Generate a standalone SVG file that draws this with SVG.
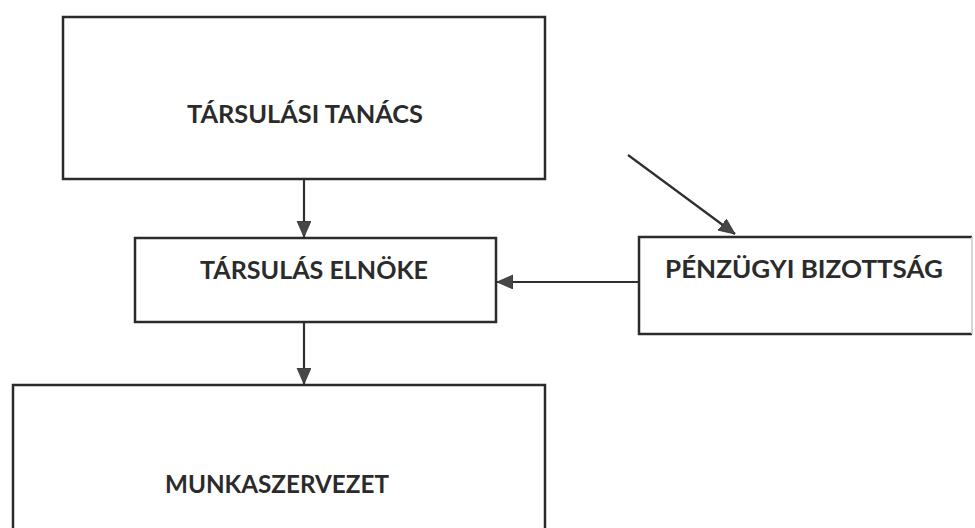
<svg xmlns="http://www.w3.org/2000/svg" width="975" height="528" viewBox="0 0 975 528">
  <defs>
    <style>
      .box { fill: #ffffff; stroke: #2b2b2b; stroke-width: 2.5; }
      .faint { stroke: #c8c8c8; stroke-width: 1.5; fill: none; }
      .lbl { font-family: Lato, "Liberation Sans", Arial, sans-serif; font-weight: bold; font-size: 25px; fill: #2b2b2b; text-anchor: middle; }
      .conn { stroke: #2f2f2f; stroke-width: 2.2; fill: none; marker-end: url(#arrow); }
    </style>
    <marker id="arrow" markerUnits="userSpaceOnUse" markerWidth="17" markerHeight="15" refX="16" refY="7" orient="auto">
      <path d="M0,0 L16,7 L0,14 Z" fill="#474747" stroke="#333333" stroke-width="0.8"/>
    </marker>
  </defs>
  <rect width="975" height="528" fill="#ffffff"/>

  <g id="tarsulasi-tanacs">
    <rect class="box" x="63" y="17" width="482" height="162"/>
    <text class="lbl" x="305" y="123" textLength="236" lengthAdjust="spacingAndGlyphs">TÁRSULÁSI TANÁCS</text>
  </g>

  <g id="tarsulas-elnoke">
    <rect class="box" x="135" y="238" width="361" height="84"/>
    <text class="lbl" x="314" y="279" textLength="228" lengthAdjust="spacingAndGlyphs">TÁRSULÁS ELNÖKE</text>
  </g>

  <g id="penzugyi-bizottsag">
    <rect x="639" y="237" width="333" height="97" fill="#ffffff"/>
    <path d="M972,237 L639,237 L639,334 L972,334" fill="none" stroke="#2b2b2b" stroke-width="2.5"/>
    <line class="faint" x1="972" y1="237" x2="972" y2="334"/>
    <text class="lbl" x="804" y="278" textLength="278" lengthAdjust="spacingAndGlyphs">PÉNZÜGYI BIZOTTSÁG</text>
  </g>

  <g id="munkaszervezet">
    <rect class="box" x="13" y="385" width="532" height="160"/>
    <text class="lbl" x="277" y="493" textLength="224" lengthAdjust="spacingAndGlyphs">MUNKASZERVEZET</text>
  </g>

  <g id="connectors">
    <line class="conn" x1="304" y1="180" x2="304" y2="237"/>
    <line class="conn" x1="304" y1="322" x2="304" y2="384"/>
    <line class="conn" x1="638" y1="282" x2="497" y2="282"/>
    <line class="conn" x1="628" y1="155" x2="735" y2="234"/>
  </g>
</svg>
